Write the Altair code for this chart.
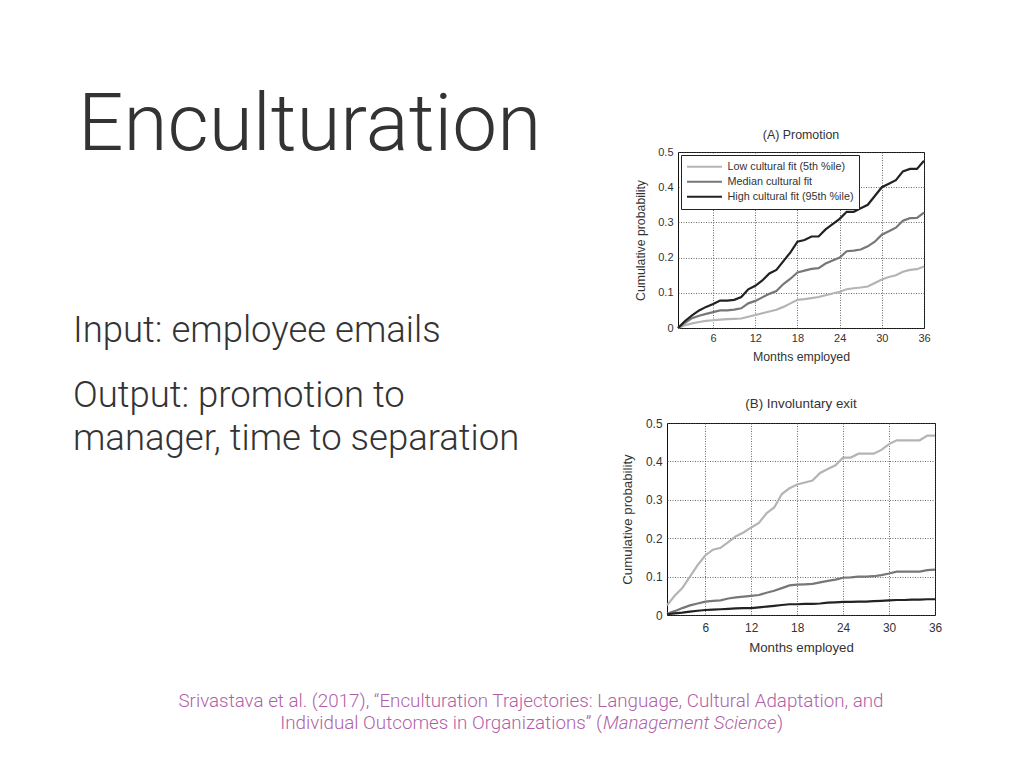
import altair as alt
import pandas as pd

# ---------------- data ----------------
months = list(range(1, 37))
fit_levels = ["Low cultural fit (5th %ile)", "Median cultural fit", "High cultural fit (95th %ile)"]
fit_colors = ["#b4b4b4", "#777777", "#222222"]

promo_low = [0, 0.008, 0.013, 0.017, 0.02, 0.022, 0.024, 0.025, 0.026, 0.027, 0.032, 0.037,
             0.042, 0.047, 0.052, 0.06, 0.07, 0.08, 0.082, 0.085, 0.088, 0.093, 0.098, 0.103,
             0.11, 0.113, 0.115, 0.118, 0.128, 0.138, 0.145, 0.15, 0.16, 0.165, 0.167, 0.175]
promo_med = [0, 0.015, 0.028, 0.035, 0.04, 0.045, 0.05, 0.05, 0.052, 0.056, 0.07, 0.077,
             0.087, 0.097, 0.105, 0.125, 0.14, 0.158, 0.163, 0.168, 0.17, 0.183, 0.192, 0.2,
             0.218, 0.22, 0.223, 0.232, 0.245, 0.265, 0.275, 0.285, 0.305, 0.312, 0.313, 0.328]
promo_high = [0, 0.02, 0.036, 0.05, 0.06, 0.068, 0.078, 0.078, 0.08, 0.088, 0.11, 0.12,
              0.135, 0.155, 0.165, 0.19, 0.215, 0.245, 0.25, 0.26, 0.26, 0.28, 0.295, 0.31,
              0.33, 0.33, 0.34, 0.35, 0.375, 0.4, 0.41, 0.42, 0.445, 0.452, 0.452, 0.475]

exit_low = [0.025, 0.05, 0.07, 0.1, 0.13, 0.155, 0.17, 0.175, 0.19, 0.205, 0.215, 0.228,
            0.24, 0.265, 0.28, 0.315, 0.33, 0.34, 0.345, 0.35, 0.37, 0.38, 0.39, 0.41,
            0.41, 0.42, 0.42, 0.42, 0.43, 0.445, 0.455, 0.455, 0.455, 0.455, 0.467, 0.467]
exit_med = [0.003, 0.01, 0.018, 0.025, 0.03, 0.035, 0.037, 0.038, 0.043, 0.046, 0.048, 0.05,
            0.052, 0.058, 0.063, 0.07, 0.077, 0.079, 0.08, 0.081, 0.085, 0.089, 0.092, 0.097,
            0.098, 0.1, 0.1, 0.101, 0.104, 0.108, 0.113, 0.113, 0.113, 0.113, 0.117, 0.118]
exit_high = [0.002, 0.004, 0.006, 0.009, 0.011, 0.013, 0.014, 0.015, 0.016, 0.017, 0.018, 0.018,
             0.02, 0.022, 0.024, 0.026, 0.028, 0.028, 0.029, 0.029, 0.03, 0.032, 0.033, 0.034,
             0.034, 0.035, 0.035, 0.036, 0.037, 0.038, 0.039, 0.039, 0.04, 0.04, 0.041, 0.041]

x_ticks = [6, 12, 18, 24, 30, 36]
y_ticks = [0, 0.1, 0.2, 0.3, 0.4, 0.5]

slide_title = "Enculturation"
bullet_1 = "Input: employee emails"
bullet_2a = "Output: promotion to"
bullet_2b = "manager, time to separation"
cite_1 = "Srivastava et al. (2017), \u201cEnculturation Trajectories: Language, Cultural Adaptation, and"
cite_2a = "Individual Outcomes in Organizations\u201d ("
cite_2b = "Management Science"
cite_2c = ")"


def long_table(low, med, high):
    rows = []
    for name, vals in zip(fit_levels, [low, med, high]):
        for m, v in zip(months, vals):
            rows.append({"month": m, "prob": v, "fit": name})
    return pd.DataFrame(rows)


CH_FONT = "Liberation Sans"
SLIDE_FONT = "Roboto"
TXT = "#333333"
CITE = "#b05fa8"
NO_FRAME = alt.ViewBackground(stroke="transparent", strokeWidth=0)


def panel(df, title, w, h, k, legend, t_off, xl_pad, xt_pad, yt_pad):
    x_axis = alt.Axis(values=x_ticks, title="Months employed", grid=True, gridColor="#444444",
                      gridDash=[1, 1.5], gridWidth=0.8, domain=False, ticks=False,
                      labelFlush=False, labelOverlap=False, labelFont=CH_FONT,
                      labelFontSize=11 * k, labelColor=TXT, labelPadding=xl_pad,
                      titleFont=CH_FONT, titleFontSize=12.3 * k, titleFontWeight="normal",
                      titleColor=TXT, titlePadding=xt_pad)
    y_axis = alt.Axis(values=y_ticks, title="Cumulative probability", grid=True,
                      gridColor="#444444", gridDash=[1, 1.5], gridWidth=0.8, domain=False,
                      ticks=False, format="~g", labelOverlap=False, labelFont=CH_FONT,
                      labelFontSize=11 * k, labelColor=TXT, labelPadding=5,
                      titleFont=CH_FONT, titleFontSize=12.3 * k, titleFontWeight="normal",
                      titleColor=TXT, titlePadding=yt_pad)
    if legend:
        leg = alt.Legend(title=None, orient="top-left", offset=3, padding=4.5,
                         strokeColor="#222222", fillColor="white", symbolType="stroke",
                         symbolSize=1225, symbolStrokeWidth=2.2, labelFont=CH_FONT,
                         labelFontSize=10.8, labelColor=TXT, labelOffset=4, rowPadding=0,
                         clipHeight=14.5)
    else:
        leg = None
    color = alt.Color("fit:N", sort=fit_levels,
                      scale=alt.Scale(domain=fit_levels, range=fit_colors),
                      legend=leg)
    return alt.Chart(df).mark_line(strokeWidth=2.2).encode(
        x=alt.X("month:Q", scale=alt.Scale(domain=[1, 36], nice=False, zero=False), axis=x_axis),
        y=alt.Y("prob:Q", scale=alt.Scale(domain=[0, 0.5], nice=False), axis=y_axis),
        color=color,
        detail="fit:N",
    ).properties(
        width=w, height=h,
        title=alt.TitleParams(title, font=CH_FONT, fontSize=12.4 * k, fontWeight="normal",
                              color=TXT, offset=t_off),
        view=alt.ViewBackground(stroke="#111111", strokeWidth=1),
    )


chart_a = panel(long_table(promo_low, promo_med, promo_high), "(A) Promotion",
                246, 176, 1.0, True, 5, 4, 7, 10)
chart_b = panel(long_table(exit_low, exit_med, exit_high), "(B) Involuntary exit",
                268, 192, 1.08, False, 7, 7, 9, 11)

one = pd.DataFrame({"a": [0]})


def spacer(w, h):
    return alt.Chart(one).mark_point(opacity=0).properties(width=w, height=h, view=NO_FRAME)


def txt(s, x, y, size, color=TXT, align="left", style="normal", weight=300):
    return alt.Chart(one).mark_text(
        text=s, font=SLIDE_FONT, fontSize=size, fontWeight=weight, fontStyle=style,
        color=color, align=align, baseline="alphabetic",
    ).encode(x=alt.value(x), y=alt.value(y))


left = alt.layer(
    txt(slide_title, 70, 142, 80),
    txt(bullet_1, 65, 334, 36.5),
    txt(bullet_2a, 65, 399, 36.5),
    txt(bullet_2b, 65, 442, 36.5),
    txt(cite_1, 523, 699, 18.8, CITE, "center"),
    txt(cite_2a, 594, 721, 18.8, CITE, "right"),
    txt(cite_2b, 595, 721, 18.8, CITE, "left", "italic"),
    txt(cite_2c, 769, 721, 18.8, CITE, "left"),
).properties(width=600, height=752, view=NO_FRAME)

right = alt.vconcat(spacer(268, 49), chart_a, chart_b, spacing=95, bounds="flush",
                    center=True).resolve_scale(color="independent")

chart = alt.hconcat(left, right, spacing=59, bounds="flush", padding=0).resolve_scale(
    color="independent"
).configure_view(stroke="transparent").configure(background="white")

chart.save("out.html", embed_options={"renderer": "svg", "actions": False})
